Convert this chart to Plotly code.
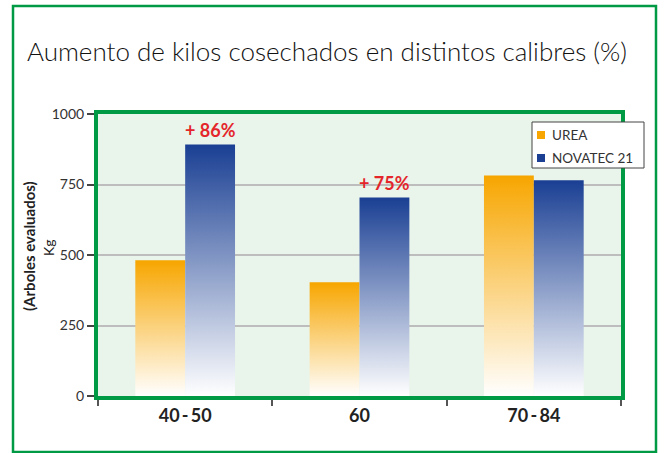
import plotly.graph_objects as go

categories = ["40\u2009-\u200950", "60", "70\u2009-\u200984"]
series_names = ["UREA", "NOVATEC 21"]
urea = [481, 403, 782]
novatec = [892, 704, 765]
increase_labels = ["+ 86%", "+ 75%", ""]
y_ticks = [0, 250, 500, 750, 1000]

colors = {"UREA": "#f7a600", "NOVATEC 21": "#1a3f93"}
series_values = {"UREA": urea, "NOVATEC 21": novatec}

# layout geometry (pixels)
W, H = 664, 453
L, R, T, B = 98, 43, 114, 57
PW, PH = W - L - R, H - T - B


def px(x):
    return (x - L) / PW


def py(y):
    return (H - B - y) / PH


bar_w = 0.286
offsets = {"UREA": (-bar_w, 0.0), "NOVATEC 21": (0.0, bar_w)}

fig = go.Figure()
for name in series_names:
    vals = series_values[name]
    o0, o1 = offsets[name]
    for i, v in enumerate(vals):
        x0, x1 = i + o0, i + o1
        fig.add_trace(go.Scatter(
            x=[x0, x0, x1, x1, x0], y=[0, v, v, 0, 0],
            mode="lines", fill="toself",
            line=dict(width=0, color="rgba(0,0,0,0)"),
            fillgradient=dict(type="vertical",
                              colorscale=[[0, "#ffffff"], [1, colors[name]]]),
            showlegend=False, hoverinfo="skip", name=name))

for i, lab in enumerate(increase_labels):
    if lab:
        fig.add_annotation(x=i + bar_w / 2, y=novatec[i], text="<b>" + lab + "</b>",
                           showarrow=False, yanchor="bottom", yshift=1,
                           font=dict(family="Lato", size=18, color="#e4262b"))

# y axis title (two lines)
fig.add_annotation(xref="paper", yref="paper", x=px(29), y=py(246),
                   text="<b>(Arboles evaluados)</b>", textangle=-90,
                   showarrow=False, xanchor="center", yanchor="middle",
                   font=dict(family="Lato", size=15, color="#222"))
fig.add_annotation(xref="paper", yref="paper", x=px(48), y=py(248),
                   text="Kg", textangle=-90,
                   showarrow=False, xanchor="center", yanchor="middle",
                   font=dict(family="Lato", size=14, color="#222"))

# legend box
fig.add_shape(type="rect", xref="paper", yref="paper",
              x0=px(532), x1=px(644), y0=py(168), y1=py(122),
              line=dict(color="#444", width=1), fillcolor="white")
for k, name in enumerate(series_names):
    yc = 135 + 23 * k
    fig.add_shape(type="rect", xref="paper", yref="paper",
                  x0=px(537), x1=px(545), y0=py(yc + 4), y1=py(yc - 4),
                  line=dict(width=0), fillcolor=colors[name])
    fig.add_annotation(xref="paper", yref="paper", x=px(550), y=py(yc),
                       text=name, showarrow=False, xanchor="left", yanchor="middle",
                       font=dict(family="Lato", size=13.5, color="#333"))

green = "#009a44"
fig.add_shape(type="rect", xref="paper", yref="paper",
              x0=px(13), x1=px(656), y0=py(452), y1=py(6),
              line=dict(color=green, width=2.5), layer="below")

fig.update_layout(
    width=W, height=H,
    margin=dict(l=L, r=R, t=T, b=B),
    paper_bgcolor="white", plot_bgcolor="#e9f4ea",
    title=dict(text="Aumento de kilos cosechados en distintos calibres (%)",
               x=327 / W, xref="container", xanchor="center",
               y=1 - 52 / H, yref="container", yanchor="middle",
               font=dict(family="Lato", size=26, color="#111", weight=300)),
    showlegend=False,
    xaxis=dict(range=[-0.5, 2.5], tickvals=[0, 1, 2], ticktext=categories,
               ticks="", showgrid=False, zeroline=False,
               showline=True, linecolor=green, linewidth=4, mirror=True,
               tickfont=dict(family="Lato", size=18, color="#222", weight="bold"),
               minor=dict(ticks="outside", tick0=-0.5, dtick=1, ticklen=6,
                          tickcolor="#555", tickwidth=1.5, showgrid=False),
               fixedrange=True),
    yaxis=dict(range=[0, 1000], tickvals=y_ticks, ticks="outside", ticklen=7,
               tickcolor="#444", tickwidth=1.5,
               showgrid=True, gridcolor="#bdbdbd", gridwidth=1.5, zeroline=False,
               showline=True, linecolor=green, linewidth=4, mirror=True,
               tickfont=dict(family="Lato", size=14, color="#333"),
               fixedrange=True),
)

fig.write_html("out.html", config={"displayModeBar": False},
               post_script="document.body.style.margin='0';document.body.style.padding='0';")
